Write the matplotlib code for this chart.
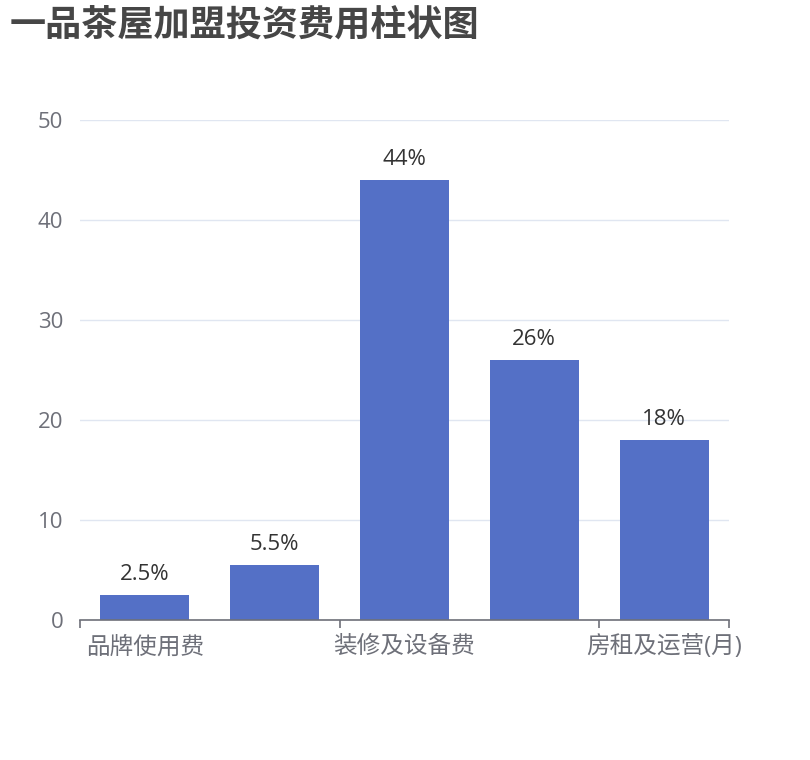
import matplotlib
matplotlib.use("Agg")
import matplotlib.pyplot as plt
import numpy as np

plt.rcParams['font.family'] = ['Open Sans', 'Noto Sans CJK SC', 'DejaVu Sans']

title = "一品茶屋加盟投资费用柱状图"
categories = ["品牌使用费", "加盟保证金", "装修及设备费", "首批进货费", "房租及运营(月)"]
values = [2.5, 5.5, 44, 26, 18]
value_labels = ["2.5%", "5.5%", "44%", "26%", "18%"]
yticks = [0, 10, 20, 30, 40, 50]

W, H = 810, 760
fig = plt.figure(figsize=(W / 100, H / 100), dpi=100)
ax = fig.add_axes([80 / W, 140 / H, (729 - 80) / W, 500 / H])

x = np.arange(len(categories))
ax.bar(x, values, width=0.685, color="#5470C6", zorder=3)
for xi, v, lab in zip(x, values, value_labels):
    ax.annotate(lab, (xi, v), xytext=(0, 7), textcoords="offset points",
                ha="center", va="bottom", fontsize=16, color="#333333")

ax.set_xlim(-0.5, len(categories) - 0.5)
ax.set_ylim(0, 50)
ax.set_yticks(yticks)
ax.set_yticklabels([str(t) for t in yticks])
ax.tick_params(axis='y', length=0, pad=12, labelsize=16, labelcolor="#6E7079")
ax.grid(axis='y', color="#E0E6F1", linewidth=1, zorder=0)

boundaries = [-0.5, 1.5, 3.5, len(categories) - 0.5]
ax.set_xticks(boundaries)
ax.set_xticklabels([])
ax.tick_params(axis='x', length=6, width=1.2, color="#6E7079")
shown = [0, 2, 4]
ax.set_xticks(shown, minor=True)
ax.set_xticklabels([categories[i] for i in shown], minor=True)
ax.tick_params(axis='x', which='minor', length=0, pad=11, labelsize=17, labelcolor="#6E7079")

for s in ["top", "right", "left"]:
    ax.spines[s].set_visible(False)
ax.spines["bottom"].set_color("#6E7079")
ax.spines["bottom"].set_linewidth(1.2)
ax.spines["bottom"].set_zorder(4)

fig.text(10 / W, 1 - 25 / H, title, fontsize=26, fontweight="bold",
         color="#464646", ha="left", va="center",
         family=['Noto Sans CJK SC', 'DejaVu Sans'])

fig.savefig("out.png", dpi=100)
